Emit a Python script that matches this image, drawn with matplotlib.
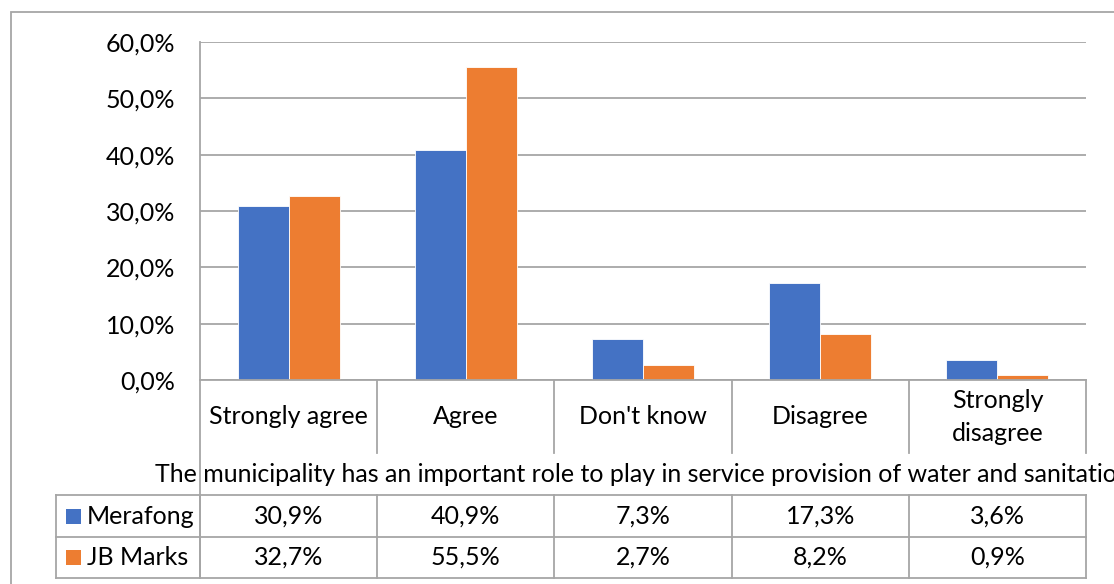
import matplotlib
matplotlib.use("Agg")
import matplotlib.pyplot as plt
from matplotlib.lines import Line2D
from matplotlib.patches import Rectangle
from matplotlib.ticker import FuncFormatter

categories = ["Strongly agree", "Agree", "Don't know", "Disagree", "Strongly\ndisagree"]
series_names = ["Merafong", "JB Marks"]
merafong = [30.9, 40.9, 7.3, 17.3, 3.6]
jb_marks = [32.7, 55.5, 2.7, 8.2, 0.9]
y_ticks = [0, 10, 20, 30, 40, 50, 60]
axis_title = ("The municipality has an important role to play in service "
              "provision of water and sanitation")

colors = ["#4472C4", "#ED7D31"]
grid_color = "#A6A6A6"
font = ["Lato", "DejaVu Sans"]
fs = 18

W, H = 1114, 584
fig = plt.figure(figsize=(W / 100, H / 100), dpi=100)
plt.rcParams["font.family"] = font


def fx(x):
    return x / W


def fy(y):
    return 1 - y / H


# plot area in pixel terms
left, top, right, bottom = 200, 42, 1086, 380
ax = fig.add_axes([fx(left), fy(bottom), fx(right - left), (bottom - top) / H])

n = len(categories)
xs = list(range(n))
bw = 0.288
ax.bar([x - bw / 2 for x in xs], merafong, width=bw, color=colors[0],
       edgecolor="white", linewidth=0.6, zorder=3)
ax.bar([x + bw / 2 for x in xs], jb_marks, width=bw, color=colors[1],
       edgecolor="white", linewidth=0.6, zorder=3)

ax.set_xlim(-0.5, n - 0.5)
ax.set_ylim(0, 60)
ax.set_yticks(y_ticks)
ax.yaxis.set_major_formatter(FuncFormatter(lambda v, p: f"{v:.1f}%".replace(".", ",")))
ax.tick_params(axis="y", length=0, pad=18, labelsize=fs)
ax.set_xticks([])
ax.grid(axis="y", color=grid_color, linewidth=1.3, zorder=0)
for side in ["top", "right", "bottom"]:
    ax.spines[side].set_visible(False)
ax.spines["left"].set_color(grid_color)
ax.spines["left"].set_linewidth(1.3)


def hline(x0, x1, y, **kw):
    fig.add_artist(Line2D([fx(x0), fx(x1)], [fy(y), fy(y)], color=grid_color,
                          linewidth=1.3, **kw))


def vline(x, y0, y1, **kw):
    fig.add_artist(Line2D([fx(x), fx(x)], [fy(y0), fy(y1)], color=grid_color,
                          linewidth=1.3, **kw))


# outer chart border
fig.add_artist(Rectangle((fx(11), fy(H + 20)), fx(W + 20), (H + 20 - 12) / H,
                         fill=False, edgecolor="#A6A6A6", linewidth=1.3))

# category boundaries and labels under the plot
col_w = (right - left) / n
bounds = [left + i * col_w for i in range(n + 1)]
hline(left, right, bottom)
for i, b in enumerate(bounds):
    if i == 0:
        vline(b, bottom, 578)
    else:
        vline(b, bottom, 453)
for i, c in enumerate(categories):
    cx = left + (i + 0.5) * col_w
    fig.text(fx(cx), fy(417), c, ha="center", va="center", fontsize=fs,
             linespacing=1.5)

# axis title, wider than the chart box
fig.text(fx((left + right) / 2), fy(474), axis_title, ha="center", va="center",
         fontsize=fs)

# data table
t_top, t_mid, t_bot = 495, 537, 578
hline(56, right, t_top)
hline(56, right, t_mid)
hline(56, right, t_bot)
vline(56, t_top, t_bot)
for b in bounds:
    vline(b, t_top, t_bot)

rows = [merafong, jb_marks]
row_centers = [(t_top + t_mid) / 2, (t_mid + t_bot) / 2]
for r, (vals, name, col) in enumerate(zip(rows, series_names, colors)):
    cy = row_centers[r]
    fig.add_artist(Rectangle((fx(66), fy(cy + 7.5)), fx(15), 15 / H,
                             facecolor=col, edgecolor="none"))
    fig.text(fx(87), fy(cy), name, ha="left", va="center", fontsize=fs)
    for i, v in enumerate(vals):
        cx = left + (i + 0.5) * col_w
        fig.text(fx(cx), fy(cy), f"{v:.1f}%".replace(".", ","), ha="center",
                 va="center", fontsize=fs)

fig.savefig("out.png", dpi=100, facecolor="white")
